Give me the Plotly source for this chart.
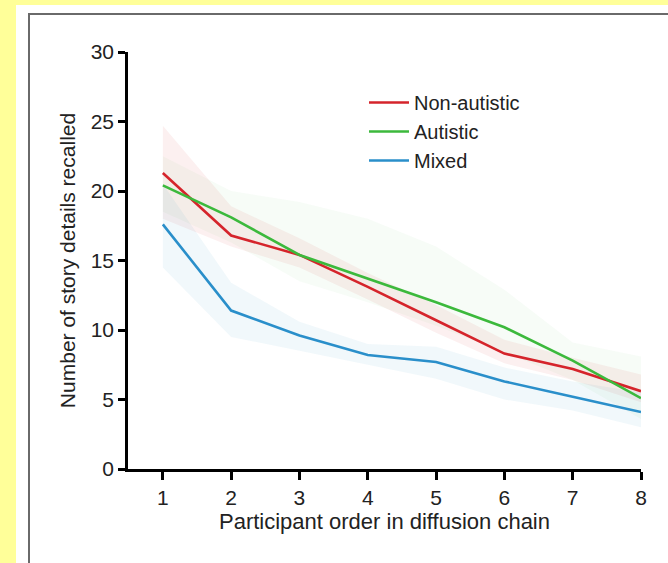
import plotly.graph_objects as go

# ---- data ----
order = [1, 2, 3, 4, 5, 6, 7, 8]
groups = ["Non-autistic", "Autistic", "Mixed"]

non_autistic = [21.3, 16.8, 15.4, 13.1, 10.7, 8.3, 7.2, 5.6]
non_autistic_hi = [24.7, 18.9, 16.6, 14.1, 11.8, 9.3, 8.0, 6.8]
non_autistic_lo = [18.0, 16.0, 14.5, 12.2, 9.8, 7.6, 6.4, 4.8]

autistic = [20.4, 18.1, 15.4, 13.7, 12.0, 10.2, 7.8, 5.1]
autistic_hi = [22.5, 20.0, 19.2, 18.0, 16.0, 12.9, 9.1, 8.1]
autistic_lo = [18.5, 16.3, 13.5, 12.0, 10.3, 8.4, 6.4, 3.6]

mixed = [17.6, 11.4, 9.6, 8.2, 7.7, 6.3, 5.2, 4.1]
mixed_hi = [20.5, 13.4, 10.6, 9.0, 8.8, 7.3, 6.3, 5.5]
mixed_lo = [14.5, 9.5, 8.5, 7.5, 6.5, 5.0, 4.2, 3.0]

y_ticks = [0, 5, 10, 15, 20, 25, 30]

colors = ["#d5242b", "#3cb93c", "#2a8fca"]
fills = ["rgba(213,36,43,0.07)", "rgba(60,185,60,0.045)", "rgba(42,143,202,0.065)"]

series = [
    (non_autistic, non_autistic_hi, non_autistic_lo),
    (autistic, autistic_hi, autistic_lo),
    (mixed, mixed_hi, mixed_lo),
]

fig = go.Figure()

# confidence bands
for (mean, hi, lo), fc in zip(series, fills):
    fig.add_trace(go.Scatter(x=order, y=hi, mode="lines", line=dict(width=0),
                             showlegend=False, hoverinfo="skip"))
    fig.add_trace(go.Scatter(x=order, y=lo, mode="lines", line=dict(width=0),
                             fill="tonexty", fillcolor=fc,
                             showlegend=False, hoverinfo="skip"))

# mean lines
for name, (mean, hi, lo), c in zip(groups, series, colors):
    fig.add_trace(go.Scatter(x=order, y=mean, mode="lines", name=name,
                             line=dict(color=c, width=2.6)))

W, H = 668, 563
L, R, T, B = 128, 27, 52, 94
pw, ph = W - L - R, H - T - B


def px(xp):
    return (xp - L) / pw


def py(yp):
    return (H - B - yp) / ph


fig.update_layout(
    width=W, height=H,
    margin=dict(l=L, r=R, t=T, b=B),
    paper_bgcolor="#ffff99",
    plot_bgcolor="rgba(0,0,0,0)",
    font=dict(family="Liberation Sans, Arial, sans-serif", color="#222222", size=20),
    showlegend=True,
    legend=dict(x=px(364), y=py(83), xanchor="left", yanchor="top",
                bgcolor="rgba(0,0,0,0)", font=dict(size=20),
                itemwidth=40, traceorder="normal"),
    shapes=[
        dict(type="rect", xref="paper", yref="paper",
             x0=px(16), x1=px(700), y0=py(600), y1=py(5),
             fillcolor="white", line=dict(width=0), layer="below"),
        dict(type="rect", xref="paper", yref="paper",
             x0=px(29), x1=px(720), y0=py(620), y1=py(14),
             fillcolor="white", line=dict(color="#6a6a6a", width=2), layer="below"),
    ],
)

fig.update_xaxes(
    range=[0.49, 8], tickvals=order, ticktext=[str(v) for v in order],
    showline=True, linecolor="black", linewidth=2.5,
    ticks="outside", ticklen=8, tickwidth=2.5, tickcolor="black",
    showgrid=False, zeroline=False,
    title=dict(text="Participant order in diffusion chain", standoff=3,
               font=dict(size=22)),
    tickfont=dict(size=21),
)
fig.update_yaxes(
    range=[0, 30], tickvals=y_ticks,
    showline=True, linecolor="black", linewidth=2.5,
    ticks="outside", ticklen=7, tickwidth=2.5, tickcolor="black",
    showgrid=False, zeroline=False,
    title=dict(text="Number of story details recalled", standoff=10,
               font=dict(size=21)),
    tickfont=dict(size=21),
)

fig.write_html("out.html", config={"displayModeBar": False},
               post_script="document.body.style.margin='0px';")
